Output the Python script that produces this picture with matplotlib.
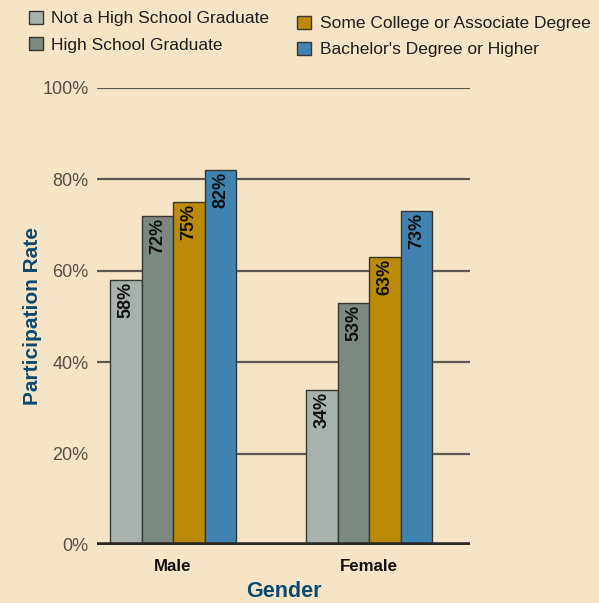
import matplotlib
matplotlib.use("Agg")
import matplotlib.pyplot as plt
import numpy as np
from matplotlib.patches import Patch

# data
genders = ["Male", "Female"]
levels = ["Not a High School Graduate", "High School Graduate",
          "Some College or Associate Degree", "Bachelor's Degree or Higher"]
rates = {
    "Not a High School Graduate": [58, 34],
    "High School Graduate": [72, 53],
    "Some College or Associate Degree": [75, 63],
    "Bachelor's Degree or Higher": [82, 73],
}
colors = ["#a7b2ac", "#7b8981", "#bb8a08", "#4183b0"]
yticks = [0, 20, 40, 60, 80, 100]

bg = "#f5e5c6"
navy = "#0d4a6e"
plt.rcParams['font.family'] = ['Liberation Sans', 'DejaVu Sans']

fig = plt.figure(figsize=(5.99, 6.03), dpi=100, facecolor=bg)
ax = fig.add_axes([0.162, 0.0962, 0.623, 0.758])
ax.set_facecolor(bg)

x = np.arange(len(genders))
w = 0.161
for k, lvl in enumerate(levels):
    pos = x + (k - 1.5) * w
    ax.bar(pos, rates[lvl], w, color=colors[k], edgecolor="#3a3632", linewidth=1, zorder=3)
    for p, v in zip(pos, rates[lvl]):
        ax.text(p, v - 0.4, f"{v}%", rotation=90, ha="center", va="top",
                fontsize=13, fontweight="bold", color="#111111", zorder=4)

ax.set_xlim(-0.388, 1.515)
ax.set_ylim(0, 100)

# grid lines (the 20% line only starts after the male group)
male_right = x[0] + 2 * w
for t in yticks[1:]:
    xmin = male_right if t == 20 else -0.388
    ax.hlines(t, xmin, 1.515, color="#5e5852", linewidth=1.6, zorder=1)

ax.axhline(0, color="#2b2725", linewidth=4, zorder=5)

for s in ax.spines.values():
    s.set_visible(False)
ax.set_yticks(yticks)
ax.set_yticklabels([f"{t}%" for t in yticks], fontsize=13, color="#555049")
ax.tick_params(axis="y", length=0, pad=6)
ax.set_xticks(x)
ax.set_xticklabels(genders, fontsize=12.2, fontweight="bold", color="#111111")
ax.tick_params(axis="x", length=0, pad=10)

ax.set_ylabel("Participation Rate", fontsize=15, fontweight="bold", color=navy, labelpad=0)
ax.set_xlabel("Gender", fontsize=15.5, fontweight="bold", color=navy, labelpad=5)

handles = [Patch(facecolor=c, edgecolor="#3a3632", linewidth=1) for c in colors]
leg1 = fig.legend(handles[:2], levels[:2], loc="upper left", bbox_to_anchor=(0.022, 1.008),
                  frameon=False, fontsize=12.5, handlelength=0.8, handleheight=0.8,
                  handletextpad=0.5, labelspacing=0.6)
leg2 = fig.legend(handles[2:], levels[2:], loc="upper left", bbox_to_anchor=(0.47, 1.0),
                  frameon=False, fontsize=12.5, handlelength=0.8, handleheight=0.8,
                  handletextpad=0.5, labelspacing=0.6)
for leg in (leg1, leg2):
    for t in leg.get_texts():
        t.set_color("#1e1e1e")

fig.savefig("out.png", dpi=100, facecolor=bg)
